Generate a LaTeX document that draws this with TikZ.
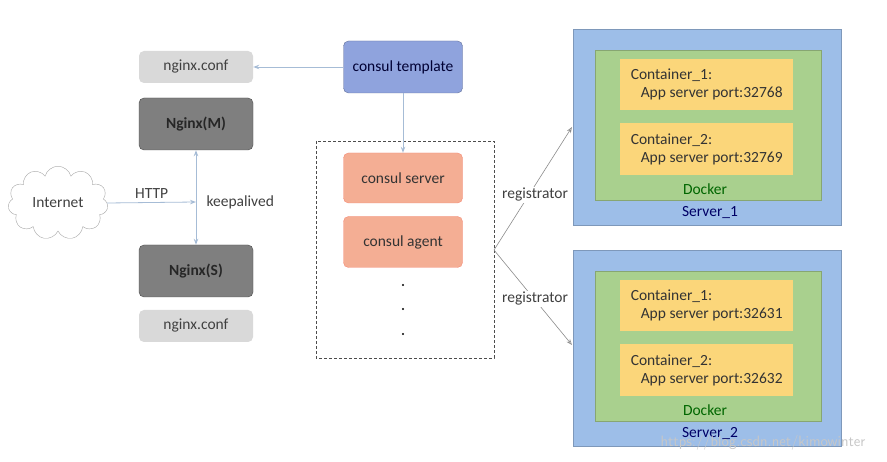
\documentclass[tikz,border=0pt]{standalone}
\usepackage{fontspec}
\setmainfont{Carlito}
\usetikzlibrary{shapes.symbols,arrows.meta}
\definecolor{lgray}{HTML}{D9D9D9}
\definecolor{dgray}{HTML}{7F7F7F}
\definecolor{tblue}{HTML}{8FA3DD}
\definecolor{orng}{HTML}{F4AE94}
\definecolor{sblue}{HTML}{9DBEE8}
\definecolor{dgreen}{HTML}{A9D08E}
\definecolor{ylw}{HTML}{FBD67A}
\definecolor{arr}{HTML}{A6BCD6}
\begin{document}
\begin{tikzpicture}[x=1pt,y=-1pt,
  box/.style={draw=#1!70!black!60,fill=#1,rounded corners=5pt,inner sep=0pt,font=\fontsize{15.5}{18}\selectfont},
  flat/.style={fill=#1,draw=#1!80!black,inner sep=0pt},
  conn/.style={draw=arr,line width=0.8pt,-{Stealth[length=6pt,open]}},
  txt/.style={font=\fontsize{15.5}{18}\selectfont}]
\useasboundingbox (0,0) rectangle (887,462);
\fill[white] (0,0) rectangle (887,462);
% left
\node[box=lgray,draw=none,minimum width=114pt,minimum height=32pt,text=black!75] (c1) at (196,67) {nginx.conf};
\node[box=dgray,draw=black!70,minimum width=114pt,minimum height=52pt,font=\fontsize{15.5}{18}\selectfont\bfseries,text=black!85] (nm) at (196,124) {Nginx(M)};
\node[box=dgray,draw=black!70,minimum width=114pt,minimum height=52pt,font=\fontsize{15.5}{18}\selectfont\bfseries,text=black!85] (ns) at (196,271) {Nginx(S)};
\node[box=lgray,draw=none,minimum width=114pt,minimum height=32pt,text=black!75] (c2) at (196,326) {nginx.conf};
\node[cloud,cloud puffs=11,draw=black!35,fill=white,minimum width=100pt,minimum height=72pt,aspect=1.4,txt,text=black!75] (net) at (58,203) {Internet};
\coordinate (hm) at (196,202);
\draw[conn] (net.east) -- node[above,txt,text=black!75]{HTTP} (hm);
\draw[draw=arr,line width=0.8pt,{Stealth[length=6pt,open]}-{Stealth[length=6pt,open]}] (nm.south) -- (ns.north);
\node[txt,text=black!75,anchor=west] (ka) at (203,202) {keepalived};
% middle
\node[box=tblue,draw=tblue!70!black,minimum width=119pt,minimum height=52pt,text=black!80!blue] (ct) at (403,67) {consul template};
\draw[densely dashed,draw=black!70,line width=0.8pt] (316,141) rectangle (494,358);
\node[box=orng,draw=orng!80!red,minimum width=119pt,minimum height=50pt,text=black!80] (cs) at (403,178) {consul server};
\node[box=orng,draw=orng!80!red,minimum width=119pt,minimum height=51pt,text=black!80] (ca) at (403,242) {consul agent};
\foreach \y/\n in {285/d1,309/d2,334/d3} \fill (403,\y) circle (1.1pt);
\draw[conn] (ct.west) -- (c1.east);
\draw[conn] (ct.south) -- (cs.north);
% servers
\foreach \s/\yo/\pa/\pb/\n in {1/0/32768/32769/s1,2/221/32631/32632/s2}{
  \node[flat=sblue,minimum width=268pt,minimum height=196pt] (\n) at (707,127+\yo) {};
  \node[flat=dgreen,minimum width=226pt,minimum height=150pt] (\n d) at (708,125+\yo) {};
  \node[flat=ylw,draw=none,minimum width=173pt,minimum height=51pt,align=left,txt,text=black!80,anchor=north west,inner sep=3pt] (\n a) at (620,59+\yo) {Container\_1:\\\hspace{10pt}App server port:\pa};
  \node[flat=ylw,draw=none,minimum width=173pt,minimum height=52pt,align=left,txt,text=black!80,anchor=north west,inner sep=3pt] (\n b) at (620,123+\yo) {Container\_2:\\\hspace{10pt}App server port:\pb};
  \node[txt,text=green!40!black] at (705,189+\yo) {Docker};
  \node[txt,text=blue!40!black] at (710,213+\yo) {Server\_\s};
}
\coordinate (sp) at (494,250);
\coordinate (t1) at (572,127);
\coordinate (t2) at (572,345);
\draw[draw=black!45,line width=0.6pt,-{Stealth[length=6pt,open]}] (sp) -- (t1);
\draw[draw=black!45,line width=0.6pt,-{Stealth[length=6pt,open]}] (sp) -- (t2);
\node[txt,text=black!75,fill=white,inner sep=1pt] at (535,195) {registrator};
\node[txt,text=black!75,fill=white,inner sep=1pt] at (535,299) {registrator};
\node[font=\fontsize{15}{17}\selectfont\sffamily,text=black!22] at (763,443) {https://blog.csdn.net/kimowinter};
\end{tikzpicture}
\end{document}
